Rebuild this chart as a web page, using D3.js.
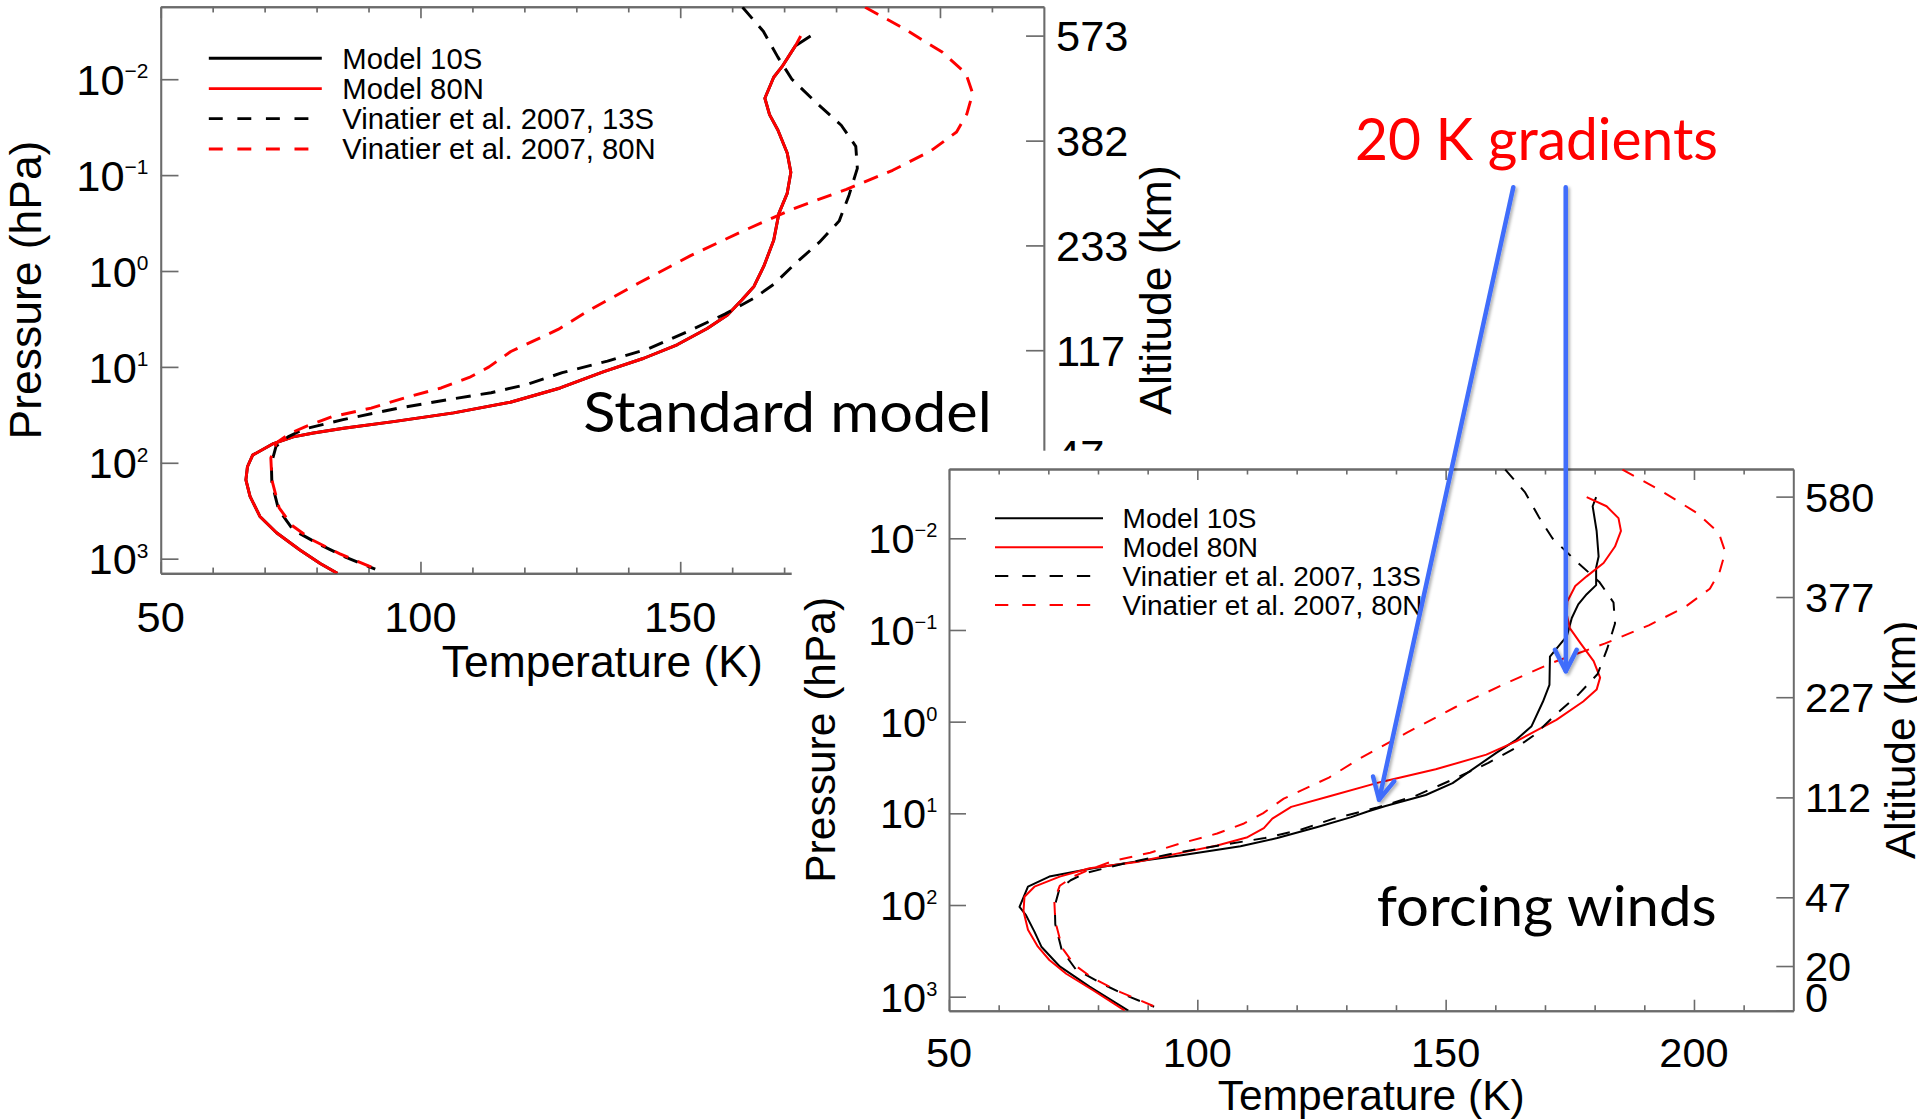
<!DOCTYPE html>
<html>
<head>
<meta charset="utf-8">
<script src="https://cdn.jsdelivr.net/npm/d3@7"></script>
<style>
  html, body { margin: 0; padding: 0; background: #fff; }
  svg { display: block; }
</style>
</head>
<body>
<svg id="fig" width="1917" height="1120"></svg>
<script>
// ---------- axes ----------
const tempDomain = [50, 220];                 // K
const pressureDomain = [1422, 0.001754];      // hPa, surface at the bottom
const tempMajor = [50, 100, 150, 200];
const tempLabelsStandard = [50, 100, 150];
const tempLabelsForcing = [50, 100, 150, 200];
const tempMinor = [60, 70, 80, 90, 110, 120, 130, 140, 160, 170, 180, 190, 210];
const pressureTicks = [0.01, 0.1, 1, 10, 100, 1000];
const pressureExp = ["\u22122", "\u22121", "0", "1", "2", "3"];
const altTickPressure = [0.00351, 0.0437, 0.541, 6.70, 82.4, 463, 1422];
const altLabelsStandard = ["573", "382", "233", "117", "47"];
const altLabelsForcing = ["580", "377", "227", "112", "47", "20", "0"];
const legendLabels = ["Model 10S", "Model 80N", "Vinatier et al. 2007, 13S", "Vinatier et al. 2007, 80N"];

// ---------- observed profiles (Vinatier et al. 2007) ----------
const vin13S_p = [0.00178, 0.00316, 0.00589, 0.0100, 0.0178, 0.0302, 0.0501, 0.0851, 0.162, 0.302,
  0.501, 0.871, 1.38, 1.91, 2.82, 4.17, 6.46, 8.71, 11.5, 15.1, 18.6, 21.9, 26.9, 35.5, 44.7, 53.7,
  67.6, 102, 162, 309, 501, 708, 977, 1288];
const vin13S_T = [162.0, 166.0, 168.8, 171.5, 176.3, 181.0, 183.8, 184.1, 182.5, 180.6,
  176.8, 171.8, 168.0, 164.3, 158.6, 151.9, 143.9, 136.0, 127.3, 120.8, 113.6, 105.5, 95.8, 85.1, 77.5, 74.5,
  72.2, 71.3, 71.4, 72.7, 75.5, 80.5, 85.8, 91.3];
const vin80N_p = [0.00178, 0.00295, 0.00525, 0.00871, 0.0141, 0.0229, 0.0355, 0.0562, 0.0891, 0.141,
  0.224, 0.385, 0.692, 1.32, 2.51, 4.07, 6.92, 10.0, 12.9, 16.6, 21.4, 26.9, 33.1, 41.7, 49.0, 61.7,
  89.1, 151, 295, 447, 631, 891, 1288];
const vin80N_T = [185.6, 193.0, 200.5, 205.0, 206.3, 205.2, 203.2, 198.2, 190.9, 182.0,
  171.8, 162.0, 152.0, 142.2, 132.8, 126.5, 117.4, 113.2, 109.4, 104.0, 96.5, 90.5, 83.0, 78.0, 75.0, 72.3,
  71.2, 71.4, 72.8, 75.2, 79.0, 84.5, 91.5];

// ---------- standard model ----------
const std_p = [0.00355, 0.00447, 0.00741, 0.00955, 0.0158, 0.0234, 0.0339, 0.0589, 0.0933, 0.155,
  0.251, 0.479, 0.891, 1.45, 2.00, 2.88, 3.98, 5.89, 8.13, 11.2, 16.6, 23.4, 30.2, 37.2, 43.7, 49.0,
  53.7, 63.1, 83.2, 110, 151, 224, 363, 537, 813, 1122, 1420];
const std10S_T = [175.1, 172.2, 169.6, 168.0, 166.3, 167.2, 168.8, 170.6, 171.3, 170.6,
  169.0, 168.0, 166.1, 164.2, 161.9, 159.1, 155.2, 149.4, 143.0, 135.3, 126.9, 117.3, 106.4, 94.8, 85.2, 79.4,
  75.5, 71.7, 67.7, 66.7, 66.4, 67.2, 69.1, 72.3, 76.8, 80.7, 84.0];
const std80N_T = [173.2, 172.2, 169.6, 168.0, 166.3, 167.2, 168.8, 170.6, 171.3, 170.6,
  169.0, 168.0, 166.1, 164.2, 161.9, 159.1, 155.2, 149.4, 143.0, 135.3, 126.9, 117.3, 106.4, 94.8, 85.2, 79.4,
  75.5, 71.7, 67.7, 66.7, 66.4, 67.2, 69.1, 72.3, 76.8, 80.7, 84.0];

// ---------- model with wind forcing ----------
const frc10S_p = [0.00355, 0.00447, 0.00832, 0.0158, 0.0209, 0.0324, 0.0407, 0.0525, 0.0741, 0.117,
  0.195, 0.398, 0.603, 1.12, 1.58, 2.19, 4.68, 6.31, 8.32, 9.55, 11.0, 14.1, 18.6, 22.9, 28.5, 33.9,
  39.8, 49.0, 63.1, 105, 129, 195, 285, 468, 776, 1420];
const frc10S_T = [180.3, 179.6, 180.4, 180.8, 180.3, 180.3, 178.4, 176.7, 175.4, 174.4,
  171.0, 170.9, 169.6, 167.3, 164.2, 160.2, 151.4, 146.0, 137.9, 134.3, 131.0, 124.2, 116.1, 108.7, 97.2, 87.1,
  79.0, 70.2, 65.9, 64.2, 65.5, 67.2, 68.6, 72.3, 78.3, 86.1];
const frc80N_p = [0.00355, 0.00447, 0.00603, 0.00832, 0.0123, 0.0186, 0.0260, 0.0331, 0.0490, 0.0676,
  0.0955, 0.138, 0.219, 0.331, 0.447, 0.603, 0.955, 1.64, 2.29, 3.31, 4.57, 6.46, 8.51, 11.4, 14.5, 18.2,
  22.4, 27.5, 33.9, 39.8, 49.0, 63.1, 81.3, 117, 186, 285, 398, 562, 851, 1420];
const frc80N_T = [178.4, 182.4, 184.8, 185.3, 184.1, 181.8, 178.4, 176.1, 174.5, 174.4,
  175.0, 177.1, 179.8, 181.1, 180.4, 177.7, 172.3, 164.2, 158.2, 148.0, 136.8, 126.8, 118.9, 115.1, 113.4, 110.1,
  104.0, 95.9, 87.8, 78.3, 72.3, 67.2, 65.2, 65.0, 65.9, 67.9, 70.2, 73.6, 79.0, 85.4];

// points the blue arrows indicate on the forced-wind panel
const arrowTargetT = [136.6, 174.2];
const arrowTargetP = [7.1, 0.282];

// ---------- drawing ----------
const svg = d3.select("#fig");
const W = 844.3, H = 541.7;
const AXIS_FONT = "'Liberation Sans', Arial, Helvetica, sans-serif";
const NOTE_FONT = "Lato, 'Open Sans', sans-serif";
const axisColor = "#6b6b6b";

const defs = svg.append("defs");
defs.append("filter").attr("id", "arrowShadow")
  .attr("x", "-20%").attr("y", "-5%").attr("width", "140%").attr("height", "110%")
  .append("feDropShadow").attr("dx", 2).attr("dy", 2).attr("stdDeviation", 1.5)
  .attr("flood-color", "#000").attr("flood-opacity", 0.3);

function drawPanel(opt) {
  const g = svg.append("g")
    .attr("transform", `translate(${opt.left},${opt.top}) scale(${opt.k})`)
    .attr("font-family", AXIS_FONT);
  const x = d3.scaleLinear().domain(tempDomain).range([0, W]);
  const y = d3.scaleLog().domain(pressureDomain).range([H, 0]);

  g.append("clipPath").attr("id", "clip-" + opt.id)
    .append("rect").attr("width", W).attr("height", H);

  const addAxis = (axis, transform) => {
    const a = g.append("g").attr("transform", transform).call(axis);
    a.selectAll("path.domain").attr("stroke", axisColor).attr("stroke-width", 2);
    a.selectAll(".tick line").attr("stroke", axisColor).attr("stroke-width", 1.6);
    a.selectAll(".tick text").remove();
    return a;
  };
  const none = () => "";
  // temperature axes (bottom and top), ticks pointing inward
  addAxis(d3.axisBottom(x).tickValues(tempMinor).tickSizeInner(-5.5).tickSizeOuter(0).tickFormat(none), `translate(0,${H})`);
  addAxis(d3.axisBottom(x).tickValues(tempMajor).tickSizeInner(-11).tickSizeOuter(0).tickFormat(none), `translate(0,${H})`);
  addAxis(d3.axisTop(x).tickValues(tempMinor).tickSizeInner(-5.5).tickSizeOuter(0).tickFormat(none), "translate(0,0)");
  addAxis(d3.axisTop(x).tickValues(tempMajor).tickSizeInner(-11).tickSizeOuter(0).tickFormat(none), "translate(0,0)");
  // pressure axis (left) and altitude axis (right)
  addAxis(d3.axisLeft(y).tickValues(pressureTicks).tickSizeInner(-17).tickSizeOuter(0).tickFormat(none), "translate(0,0)");
  const altP = altTickPressure.slice(0, opt.altLabels.length);
  addAxis(d3.axisRight(y).tickValues(altP).tickSizeInner(-17).tickSizeOuter(0).tickFormat(none), `translate(${W},0)`);

  // temperature tick labels
  g.append("g").attr("font-size", 41.5).attr("text-anchor", "middle")
    .selectAll("text").data(opt.tempLabels).join("text")
    .attr("x", d => x(d)).attr("y", H + 56.3).text(d => d);

  // pressure tick labels 10^n
  const yl = g.append("g").attr("font-size", 41.5).attr("text-anchor", "end");
  pressureTicks.forEach((p, i) => {
    const t = yl.append("text").attr("x", -11.7).attr("y", y(p) + 15);
    t.append("tspan").text("10");
    t.append("tspan").attr("font-size", 20).attr("dy", -16).text(pressureExp[i]);
  });

  // altitude tick labels
  g.append("g").attr("font-size", 41.5)
    .selectAll("text").data(opt.altLabels).join("text")
    .attr("x", W + 11.7)
    .attr("y", (d, i) => Math.min(y(altP[i]) + 15, H + 1))
    .text(d => d);

  // axis titles
  g.append("text").attr("font-size", 42.5).attr("text-anchor", "middle")
    .attr("x", W / 2).attr("y", H + 99.6).text("Temperature (K)");
  g.append("text").attr("font-size", 42.5).attr("text-anchor", "middle")
    .attr("transform", `translate(-114,${H / 2}) rotate(-90)`).text("Pressure (hPa)");
  g.append("text").attr("font-size", 42.5).attr("text-anchor", "middle")
    .attr("transform", `translate(${W + 122},${H / 2}) rotate(-90)`).text("Altitude (km)");

  // profiles
  const line = d3.line().x(d => x(d[1])).y(d => y(d[0]));
  const curves = g.append("g").attr("clip-path", `url(#clip-${opt.id})`);
  opt.series.forEach(s => {
    curves.append("path")
      .attr("d", line(d3.zip(s.p, s.T)))
      .attr("fill", "none")
      .attr("stroke", s.color)
      .attr("stroke-width", opt.lw)
      .attr("stroke-linejoin", "round")
      .attr("stroke-dasharray", s.dashed ? opt.dash : null);
  });

  // legend
  const lg = g.append("g");
  const legY = [49.3, 78.3, 107, 136];
  opt.series.forEach((s, i) => {
    lg.append("line")
      .attr("x1", 46).attr("x2", s.dashed ? 141.5 : 154)
      .attr("y1", legY[i]).attr("y2", legY[i])
      .attr("stroke", s.color).attr("stroke-width", opt.lw)
      .attr("stroke-dasharray", s.dashed ? "13.3,14" : null);
    lg.append("text").attr("x", 173.6).attr("y", legY[i] + 10)
      .attr("font-size", 28).text(legendLabels[i]);
  });

  return { x, y, left: opt.left, top: opt.top, k: opt.k };
}

function note(text, x0, x1, baseline, size, color) {
  svg.append("text")
    .attr("x", x0).attr("y", baseline)
    .attr("font-family", NOTE_FONT).attr("font-size", size)
    .attr("fill", color)
    .attr("textLength", x1 - x0).attr("lengthAdjust", "spacingAndGlyphs")
    .text(text);
}

// Standard model panel
drawPanel({
  id: "std", left: 160.7, top: 6.7, k: 1.046, lw: 2.8, dash: "14.3,9.6",
  altLabels: altLabelsStandard, tempLabels: tempLabelsStandard,
  series: [
    { p: std_p, T: std10S_T, color: "#000000", dashed: false },
    { p: std_p, T: std80N_T, color: "#ff0000", dashed: false },
    { p: vin13S_p, T: vin13S_T, color: "#000000", dashed: true },
    { p: vin80N_p, T: vin80N_T, color: "#ff0000", dashed: true }
  ]
});
note("Standard model", 583.3, 991.7, 431.7, 56, "#000");

// second figure sits on its own white sheet over the first one
svg.append("rect").attr("x", 791.7).attr("y", 450.7)
  .attr("width", 1917 - 791.7).attr("height", 1120 - 450.7).attr("fill", "#fff");

const forced = drawPanel({
  id: "frc", left: 949, top: 469, k: 1, lw: 2, dash: "13,11",
  altLabels: altLabelsForcing, tempLabels: tempLabelsForcing,
  series: [
    { p: frc10S_p, T: frc10S_T, color: "#000000", dashed: false },
    { p: frc80N_p, T: frc80N_T, color: "#ff0000", dashed: false },
    { p: vin13S_p, T: vin13S_T, color: "#000000", dashed: true },
    { p: vin80N_p, T: vin80N_T, color: "#ff0000", dashed: true }
  ]
});
note("forcing winds", 1376.7, 1716.7, 926.3, 56, "#000");
note("20 K gradients", 1355, 1718, 160.4, 58, "#ff0000");

// arrows from the annotation to the two gradient regions
const arrowStart = [[1513.3, 187.2], [1565.7, 187.2]];
const arrows = svg.append("g").attr("filter", "url(#arrowShadow)")
  .attr("stroke", "#3f6dfb").attr("stroke-width", 4.5).attr("fill", "none")
  .attr("stroke-linecap", "round").attr("stroke-linejoin", "round");
arrowTargetT.forEach((T, i) => {
  const x2 = forced.left + forced.x(T);
  const y2 = forced.top + forced.y(arrowTargetP[i]);
  const [x1, y1] = arrowStart[i];
  const ang = Math.atan2(y2 - y1, x2 - x1);
  const L = 24, a = 27 * Math.PI / 180;
  const pA = [x2 - L * Math.cos(ang - a), y2 - L * Math.sin(ang - a)];
  const pB = [x2 - L * Math.cos(ang + a), y2 - L * Math.sin(ang + a)];
  arrows.append("line").attr("x1", x1).attr("y1", y1).attr("x2", x2).attr("y2", y2);
  arrows.append("path").attr("d", `M${pA[0]},${pA[1]}L${x2},${y2}L${pB[0]},${pB[1]}`);
});
</script>
</body>
</html>
